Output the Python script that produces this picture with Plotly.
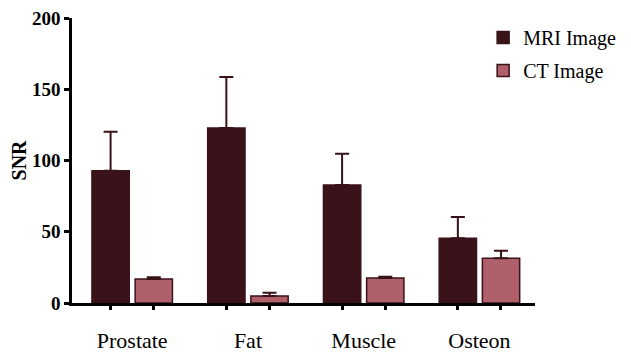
import plotly.graph_objects as go

categories = ["Prostate", "Fat", "Muscle", "Osteon"]
mri_values = [92.8, 122.8, 82.8, 45.4]
mri_errors = [27.4, 35.8, 22.0, 14.9]
ct_values = [16.8, 4.9, 17.5, 31.4]
ct_errors = [1.2, 2.3, 1.0, 5.3]
y_ticks = [0, 50, 100, 150, 200]

MRI_COLOR = "#3a1219"
CT_COLOR = "#b0606b"
EDGE = "#3a1219"
SERIF = "Liberation Serif"

fig = go.Figure()
fig.add_trace(go.Bar(
    name="MRI Image", x=categories, y=mri_values, legendgroup="mri",
    marker=dict(color=MRI_COLOR, line=dict(color=EDGE, width=1.5)),
    error_y=dict(type="data", array=mri_errors, arrayminus=[0] * 4, symmetric=False,
                 color=EDGE, thickness=2, width=7),
))
fig.add_trace(go.Bar(
    name="CT Image", x=categories, y=ct_values, legendgroup="ct",
    marker=dict(color=CT_COLOR, line=dict(color=EDGE, width=1.5)),
    error_y=dict(type="data", array=ct_errors, arrayminus=[0] * 4, symmetric=False,
                 color=EDGE, thickness=2, width=7),
))

# tick marks under each bar (secondary axis, no labels)
bar_offset = 0.186
tick_positions = []
for i in range(len(categories)):
    tick_positions += [i - bar_offset, i + bar_offset]
fig.add_trace(go.Scatter(x=tick_positions, y=[None] * len(tick_positions),
                         xaxis="x2", yaxis="y", showlegend=False, hoverinfo="skip"))

fig.update_layout(
    width=623, height=346,
    margin=dict(l=64, r=86, t=10, b=51),
    paper_bgcolor="white", plot_bgcolor="white",
    barmode="group", bargap=0.254, bargroupgap=0.136,
    font=dict(family=SERIF, color="black"),
    xaxis=dict(
        type="category", range=[-0.52, 3.48], automargin=False,
        showline=True, linecolor="black", linewidth=2.5,
        ticks="", showgrid=False, zeroline=False,
        tickfont=dict(family=SERIF, size=22, color="black"),
        ticklabelstandoff=16, ticklabeloverflow="allow",
    ),
    xaxis2=dict(
        overlaying="x", anchor="y", range=[-0.52, 3.48], automargin=False,
        tickmode="array", tickvals=tick_positions, showticklabels=False,
        ticks="outside", ticklen=6, tickwidth=2.5, tickcolor="black",
        showgrid=False, zeroline=False, showline=False, side="bottom",
    ),
    yaxis=dict(
        range=[0, 200], tickmode="array", tickvals=y_ticks, automargin=False,
        showline=True, linecolor="black", linewidth=2.5,
        ticks="outside", ticklen=5, tickwidth=2.5, tickcolor="black",
        showgrid=False, zeroline=False, ticklabeloverflow="allow",
        tickfont=dict(family=SERIF, size=19, color="black", weight="bold"),
        title=dict(text="<b>SNR</b>", font=dict(family=SERIF, size=20, color="black"), standoff=8),
    ),
    legend=dict(
        x=0.888, y=1.0, xanchor="left", yanchor="top",
        font=dict(family=SERIF, size=20, color="black"),
        bgcolor="rgba(0,0,0,0)", tracegroupgap=4,
    ),
)

fig.write_html("out.html")
